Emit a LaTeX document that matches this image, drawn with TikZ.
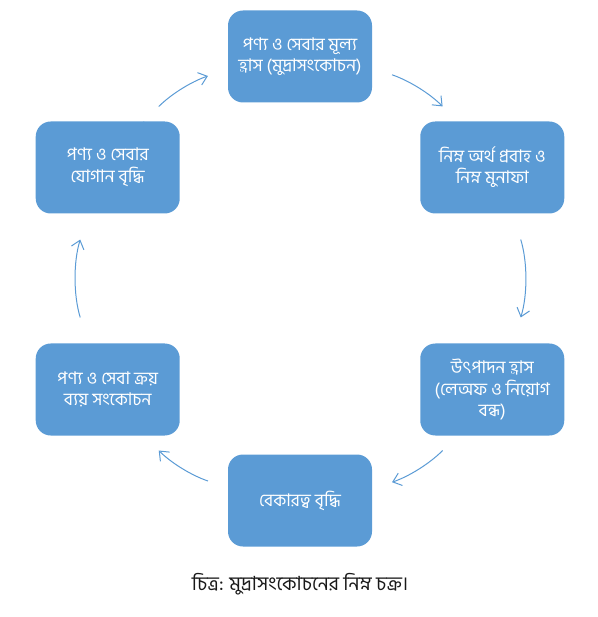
\documentclass[tikz,border=0pt]{standalone}
\usepackage{fontspec}
\newfontfamily\bangla[Script=Bengali]{Hind Siliguri}
\usetikzlibrary{arrows.meta}
\definecolor{cycleblue}{HTML}{5B9BD5}
\tikzset{
    phase/.style =   {rectangle,
                    rounded corners=15pt,
                    fill=cycleblue,
                    draw=none,
                    text=white,
                    align=center,
                    inner sep=2pt,
                    minimum width=144pt,
                    minimum height=92pt,
                    font=\bangla\fontsize{17.5}{21.5}\selectfont},
    caption/.style = {text=black!90,
                    font=\bangla\fontsize{19.5}{23}\selectfont},
    flow/.style =    {draw=cycleblue,
                    line width=1pt,
                    -{Straight Barb[length=8pt,width=13pt]}},
}

\begin{document}
\begin{tikzpicture}
                \useasboundingbox (-300pt,-338.5pt) rectangle (297pt,278.5pt);
                \node[phase]   (T)   at (90:222pt)   {পণ্য ও সেবার মূল্য\\হ্রাস (মুদ্রাসংকোচন)};
                \node[phase]   (RT)  at (30:222pt)   {নিম্ন অর্থ প্রবাহ ও\\নিম্ন মুনাফা};
                \node[phase]   (RB)  at (-30:222pt)  {উৎপাদন হ্রাস\\(লেঅফ ও  নিয়োগ\\বন্ধ)};
                \node[phase]   (B)   at (-90:222pt)  {বেকারত্ব বৃদ্ধি};
                \node[phase]   (LB)  at (210:222pt)  {পণ্য ও সেবা ক্রয়\\ব্যয় সংকোচন};
                \node[phase]   (LT)  at (150:222pt)  {পণ্য ও সেবার\\যোগান বৃদ্ধি};
                \node[caption] (cap) at (0,-306pt)   {চিত্র: মুদ্রাসংকোচনের নিম্ন চক্র।};
                \path [flow]    (T.-9.5)    edge [bend left=13, shorten <=21pt, shorten >=21pt] (RT.127.3)
                                (RT.-66.2)  edge [bend left=17, shorten <=27pt, shorten >=27pt] (RB.66.2)
                                (RB.-127.3) edge [bend left=13, shorten <=21pt, shorten >=21pt] (B.9.5)
                                (B.170.5)   edge [bend left=13, shorten <=21pt, shorten >=21pt] (LB.-52.7)
                                (LB.113.8)  edge [bend left=17, shorten <=27pt, shorten >=27pt] (LT.-113.8)
                                (LT.52.7)   edge [bend left=13, shorten <=21pt, shorten >=21pt] (T.-170.5);
\end{tikzpicture}
\end{document}
